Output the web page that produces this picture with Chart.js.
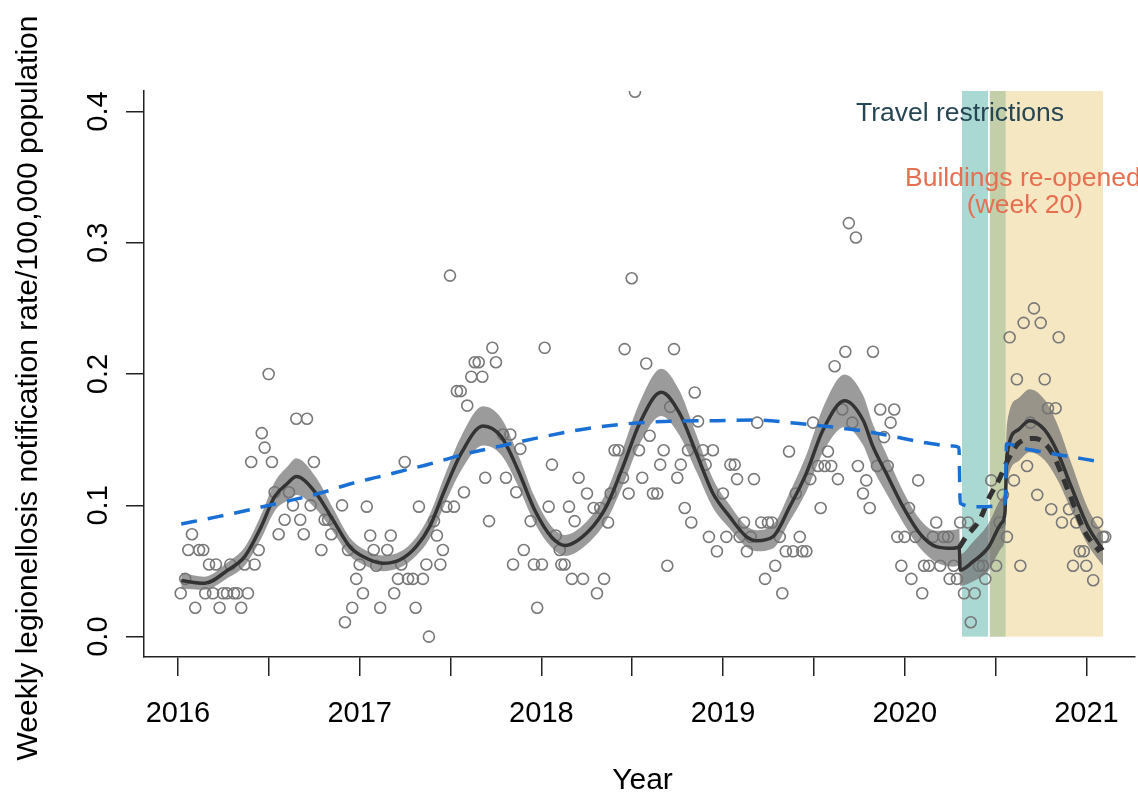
<!DOCTYPE html>
<html><head><meta charset="utf-8">
<script src="https://cdn.jsdelivr.net/npm/chart.js@4.4.0/dist/chart.umd.min.js"></script>
<style>html,body{margin:0;padding:0;background:#fff}canvas{display:block}</style>
</head><body>
<canvas id="c" width="1138" height="792" style="width:1138px;height:792px"></canvas>
<script>
// ---------- data (decimal year, weekly rate /100,000) ----------
const ptX = [2016.015,2016.040,2016.057,2016.077,2016.095,2016.116,2016.139,2016.150,2016.171,2016.193,2016.209,2016.229,2016.248,2016.270,2016.288,2016.308,2016.326,2016.348,2016.367,2016.385,2016.403,2016.422,2016.444,2016.461,2016.477,2016.499,2016.517,2016.532,2016.554,2016.587,2016.611,2016.633,2016.651,2016.673,2016.692,2016.710,2016.730,2016.748,2016.789,2016.807,2016.826,2016.844,2016.903,2016.919,2016.936,2016.959,2016.981,
2017.000,2017.018,2017.039,2017.058,2017.077,2017.091,2017.113,2017.152,2017.171,2017.190,2017.211,2017.229,2017.248,2017.266,2017.293,2017.308,2017.326,2017.348,2017.367,2017.381,2017.409,2017.425,2017.444,2017.458,2017.477,2017.497,2017.519,2017.535,2017.556,2017.574,2017.592,2017.614,2017.633,2017.655,2017.675,2017.691,2017.712,2017.730,2017.750,2017.789,2017.805,2017.829,2017.844,2017.862,2017.884,2017.903,2017.941,2017.959,2017.977,
2018.003,2018.018,2018.040,2018.058,2018.079,2018.101,2018.110,2018.128,2018.152,2018.168,2018.183,2018.205,2018.229,2018.251,2018.288,2018.306,2018.324,2018.345,2018.367,2018.381,2018.403,2018.425,2018.449,2018.458,2018.480,2018.497,2018.515,2018.537,2018.555,2018.577,2018.596,2018.614,2018.638,2018.654,2018.673,2018.693,2018.709,2018.730,2018.748,2018.767,2018.789,2018.807,2018.825,2018.844,2018.862,2018.889,2018.904,2018.922,2018.944,2018.966,2018.999,
2019.018,2019.040,2019.064,2019.077,2019.091,2019.115,2019.131,2019.152,2019.170,2019.188,2019.210,2019.231,2019.247,2019.269,2019.287,2019.312,2019.326,2019.345,2019.363,2019.385,2019.400,2019.422,2019.436,2019.458,2019.480,2019.495,2019.522,2019.537,2019.559,2019.577,2019.595,2019.614,2019.632,2019.656,2019.673,2019.692,2019.711,2019.731,2019.742,2019.770,2019.788,2019.807,2019.825,2019.847,2019.865,2019.886,2019.906,2019.922,2019.942,2019.959,2019.981,2019.999,
2020.023,2020.036,2020.058,2020.074,2020.096,2020.106,2020.133,2020.155,2020.173,2020.195,2020.214,2020.238,2020.247,2020.269,2020.287,2020.305,2020.326,2020.348,2020.363,2020.385,2020.408,2020.430,2020.443,2020.476,2020.503,2020.522,2020.540,2020.562,2020.577,2020.601,2020.617,2020.636,2020.654,2020.673,2020.691,2020.711,2020.729,2020.748,2020.770,2020.788,2020.806,2020.830,2020.847,2020.865,2020.904,2020.926,2020.944,2020.963,2020.985,2020.999,2021.037,2021.059,2021.091,2021.103];
const ptY = [0.033,0.044,0.066,0.078,0.022,0.066,0.066,0.033,0.055,0.033,0.055,0.022,0.033,0.033,0.055,0.033,0.033,0.022,0.055,0.033,0.133,0.055,0.066,0.155,0.144,0.200,0.133,0.110,0.078,0.089,0.110,0.100,0.166,0.089,0.078,0.166,0.100,0.133,0.066,0.089,0.089,0.078,0.100,0.011,0.066,0.022,0.044,
0.055,0.033,0.099,0.077,0.066,0.054,0.022,0.066,0.077,0.033,0.044,0.055,0.133,0.044,0.044,0.022,0.099,0.044,0.055,0.000,0.088,0.077,0.055,0.066,0.099,0.275,0.099,0.187,0.187,0.110,0.176,0.198,0.209,0.209,0.198,0.121,0.088,0.220,0.209,0.154,0.121,0.154,0.055,0.110,0.143,0.066,0.088,0.055,0.022,
0.055,0.220,0.099,0.131,0.077,0.066,0.055,0.055,0.099,0.044,0.088,0.121,0.044,0.109,0.098,0.033,0.098,0.044,0.087,0.109,0.142,0.142,0.121,0.219,0.109,0.273,0.415,0.142,0.121,0.208,0.153,0.109,0.109,0.131,0.142,0.054,0.175,0.219,0.121,0.131,0.098,0.142,0.087,0.186,0.164,0.142,0.131,0.076,0.142,0.065,0.109,
0.076,0.131,0.131,0.120,0.076,0.087,0.065,0.076,0.120,0.163,0.087,0.044,0.087,0.087,0.054,0.076,0.033,0.065,0.141,0.065,0.109,0.076,0.065,0.065,0.120,0.163,0.130,0.098,0.130,0.141,0.130,0.206,0.120,0.173,0.217,0.315,0.163,0.304,0.130,0.109,0.119,0.098,0.217,0.130,0.173,0.152,0.130,0.163,0.173,0.076,0.054,0.076,
0.098,0.044,0.076,0.119,0.033,0.054,0.054,0.076,0.087,0.054,0.076,0.076,0.044,0.054,0.044,0.087,0.033,0.087,0.011,0.033,0.054,0.054,0.044,0.119,0.054,0.087,0.108,0.076,0.228,0.119,0.196,0.054,0.239,0.130,0.163,0.250,0.108,0.239,0.196,0.174,0.097,0.174,0.228,0.087,0.097,0.054,0.087,0.065,0.065,0.054,0.043,0.087,0.076,0.076];

// fitted seasonal model (solid) with confidence band
const fitX  = [2016.018,2016.147,2016.275,2016.367,2016.458,2016.532,2016.605,2016.651,2016.761,2016.853,2016.945,2017.018,2017.128,2017.220,2017.311,2017.385,2017.468,2017.559,2017.679,2017.779,2017.871,2017.963,2018.054,2018.130,2018.266,2018.357,2018.449,2018.541,2018.660,2018.761,2018.853,2018.944,2019.036,2019.128,2019.183,2019.275,2019.367,2019.458,2019.550,2019.669,2019.770,2019.825,2019.898,2019.990,2020.082,2020.173,2020.265,2020.300,2020.305,2020.375,2020.460,2020.531,2020.551,2020.562,2020.623,2020.687,2020.770,2020.843,2020.916,2021.008,2021.091];
const fitY  = [0.0427,0.0407,0.0508,0.0610,0.0838,0.1066,0.1170,0.1219,0.1090,0.0889,0.0686,0.0610,0.0559,0.0584,0.0686,0.0838,0.1117,0.1397,0.1605,0.1523,0.1270,0.0965,0.0762,0.0695,0.0813,0.0990,0.1295,0.1625,0.1861,0.1701,0.1397,0.1092,0.0914,0.0762,0.0731,0.0762,0.0990,0.1244,0.1574,0.1797,0.1650,0.1447,0.1244,0.0990,0.0787,0.0686,0.0673,0.0680,0.0508,0.0571,0.0680,0.0863,0.0940,0.1380,0.1574,0.1645,0.1574,0.1397,0.1142,0.0838,0.0660];
const fitLo = [0.0367,0.0357,0.0448,0.0540,0.0748,0.0956,0.1040,0.1079,0.0970,0.0799,0.0616,0.0550,0.0499,0.0524,0.0616,0.0748,0.1007,0.1267,0.1455,0.1383,0.1150,0.0865,0.0682,0.0615,0.0723,0.0880,0.1155,0.1465,0.1681,0.1531,0.1257,0.0982,0.0824,0.0682,0.0651,0.0672,0.0880,0.1104,0.1404,0.1597,0.1460,0.1277,0.1094,0.0870,0.0677,0.0566,0.0533,0.0540,0.0388,0.0421,0.0500,0.0673,0.0750,0.1150,0.1334,0.1405,0.1344,0.1187,0.0962,0.0698,0.0540];
const fitHi = [0.0487,0.0457,0.0568,0.0680,0.0928,0.1176,0.1300,0.1359,0.1210,0.0979,0.0756,0.0670,0.0619,0.0644,0.0756,0.0928,0.1227,0.1527,0.1755,0.1663,0.1390,0.1065,0.0842,0.0775,0.0903,0.1100,0.1435,0.1785,0.2041,0.1871,0.1537,0.1202,0.1004,0.0842,0.0811,0.0852,0.1100,0.1384,0.1744,0.1997,0.1840,0.1617,0.1394,0.1110,0.0897,0.0806,0.0813,0.0820,0.0628,0.0721,0.0860,0.1053,0.1130,0.1610,0.1814,0.1885,0.1804,0.1607,0.1322,0.0978,0.0780];

// counterfactual (dashed black) after restrictions; starts from the fit point at index cfStart
const cfStart = 47;
const cfX = [2020.338,2020.412,2020.467,2020.513,2020.568,2020.623,2020.715,2020.806,2020.898,2020.990,2021.073];
const cfY = [0.0762,0.0889,0.1066,0.1180,0.1346,0.1470,0.1510,0.1410,0.1117,0.0800,0.0647];

// long-term trend (blue dashed)
const trendX = [2016.018,2016.220,2016.550,2016.800,2016.945,2017.110,2017.256,2017.385,2017.559,2017.743,2017.926,2018.183,2018.357,2018.632,2018.963,2019.183,2019.403,2019.733,2019.898,2020.082,2020.265,2020.298,2020.305,2020.400,2020.553,2020.560,2020.650,2020.800,2021.073];
const trendY = [0.0858,0.0914,0.1016,0.1100,0.1163,0.1219,0.1270,0.1315,0.1384,0.1442,0.1498,0.1569,0.1605,0.1637,0.1645,0.1650,0.1625,0.1574,0.1536,0.1485,0.1452,0.1440,0.1016,0.0990,0.1016,0.1470,0.1435,0.1397,0.1333];

// shaded periods
const shadeStart = [2020.315, 2020.468, 2020.468];
const shadeEnd   = [2020.458, 2020.555, 2021.091];
const shadeColor = ['rgba(42,157,143,0.4)','rgba(42,157,143,0.4)','rgba(233,196,106,0.4)'];

// axes
const xTicks = [2016,2016.5,2017,2017.5,2018,2018.5,2019,2019.5,2020,2020.5,2021];
const xLabels = [2016,2017,2018,2019,2020,2021];
const yTicks = [0,0.1,0.2,0.3,0.4];
const xMin = 2015.813, xMax = 2021.267, yMin = -0.0155, yMax = 0.4156;

const labelTravel = 'Travel restrictions';
const labelBuild1 = 'Buildings re-opened';
const labelBuild2 = '(week 20)';
const yTitle = 'Weekly legionellosis notification rate/100,000 population';
const xTitle = 'Year';

// ---------- build ----------
const zip = (xs, ys) => xs.map((v, i) => ({x: v, y: ys[i]}));
const points = zip(ptX, ptY);
const fitPts = zip(fitX, fitY);
const loPts = zip(fitX, fitLo);
const hiPts = zip(fitX, fitHi);
const cfPts = fitPts.slice(cfStart, cfStart + 1).concat(zip(cfX, cfY));
const trendPts = zip(trendX, trendY);

const FONT = '"Liberation Sans", Arial, Helvetica, sans-serif';

const decor = {
  id: 'decor',
  beforeDatasetsDraw(chart) {
    const {ctx, scales: {x, y}} = chart;
    ctx.save();
    const y0 = y.getPixelForValue(0), y1 = y.getPixelForValue(yMax);
    for (let i = 0; i < shadeStart.length; i++) {
      const x0 = x.getPixelForValue(shadeStart[i]), x1 = x.getPixelForValue(shadeEnd[i]);
      ctx.fillStyle = shadeColor[i];
      ctx.fillRect(x0, y1, x1 - x0, y0 - y1);
    }
    ctx.restore();
  },
  afterDraw(chart) {
    const {ctx, chartArea: ca, scales: {x, y}} = chart;
    ctx.save();
    ctx.fillStyle = '#000';
    ctx.font = '29px ' + FONT;
    ctx.textAlign = 'center';
    ctx.textBaseline = 'alphabetic';
    xLabels.forEach(v => ctx.fillText(String(v), x.getPixelForValue(v), ca.bottom + 65));
    yTicks.forEach(v => {
      ctx.save();
      ctx.translate(ca.left - 37, y.getPixelForValue(v));
      ctx.rotate(-Math.PI / 2);
      ctx.fillText(v.toFixed(1), 0, 0);
      ctx.restore();
    });
    ctx.font = '30px ' + FONT;
    ctx.fillText(xTitle, (ca.left + ca.right) / 2 + 3, ca.bottom + 132);
    ctx.save();
    ctx.translate(ca.left - 107, (ca.top + ca.bottom) / 2 + 14);
    ctx.rotate(-Math.PI / 2);
    ctx.fillText(yTitle, 0, 0);
    ctx.restore();

    ctx.font = '26.5px ' + FONT;
    ctx.fillStyle = '#264653';
    ctx.fillText(labelTravel, x.getPixelForValue(2020.304), y.getPixelForValue(0.3927));
    ctx.fillStyle = '#e76f51';
    ctx.fillText(labelBuild1, x.getPixelForValue(2020.650), y.getPixelForValue(0.3432));
    ctx.fillText(labelBuild2, x.getPixelForValue(2020.661), y.getPixelForValue(0.3226));
    ctx.restore();
  }
};

new Chart(document.getElementById('c'), {
  type: 'line',
  data: {
    datasets: [
      { label: 'trend', data: trendPts, order: 0, borderColor: '#1a6fd4', borderWidth: 3.5,
        borderDash: [16, 11], pointRadius: 0, fill: false, cubicInterpolationMode: 'monotone' },
      { label: 'counterfactual', data: cfPts, order: 1, borderColor: '#333333', borderWidth: 5,
        borderDash: [11, 8], pointRadius: 0, fill: false, cubicInterpolationMode: 'monotone' },
      { label: 'fit', data: fitPts, order: 2, borderColor: '#333333', borderWidth: 3.5,
        pointRadius: 0, fill: false, cubicInterpolationMode: 'monotone' },
      { label: 'upper', data: hiPts, order: 3, borderWidth: 0, borderColor: 'rgba(0,0,0,0)',
        backgroundColor: 'rgba(112,112,112,0.7)', pointRadius: 0, fill: '+1', cubicInterpolationMode: 'monotone' },
      { label: 'lower', data: loPts, order: 4, borderWidth: 0, borderColor: 'rgba(0,0,0,0)',
        pointRadius: 0, fill: false, cubicInterpolationMode: 'monotone' },
      { label: 'weekly', data: points, order: 5, showLine: false, pointRadius: 5.5, pointBorderWidth: 1.6,
        pointBorderColor: '#787878', pointBackgroundColor: 'rgba(0,0,0,0)', pointStyle: 'circle' }
    ]
  },
  options: {
    responsive: false, animation: false, devicePixelRatio: 1,
    layout: { autoPadding: false, padding: { left: 0, top: 91, right: 3, bottom: 0 } },
    plugins: { legend: { display: false }, tooltip: { enabled: false } },
    scales: {
      x: {
        type: 'linear', min: xMin, max: xMax,
        afterBuildTicks: s => { s.ticks = xTicks.map(v => ({ value: v })); },
        afterFit: s => { s.height = 135; },
        grid: { drawOnChartArea: false, drawTicks: true, tickLength: 19, color: '#222', lineWidth: 1.5 },
        border: { display: true, color: '#222', width: 1.5 },
        ticks: { color: 'rgba(0,0,0,0)', font: { size: 10 }, maxRotation: 0, autoSkip: false }
      },
      y: {
        type: 'linear', min: yMin, max: yMax,
        afterBuildTicks: s => { s.ticks = yTicks.map(v => ({ value: v })); },
        afterFit: s => { s.width = 144; },
        grid: { drawOnChartArea: false, drawTicks: true, tickLength: 18, color: '#222', lineWidth: 1.5 },
        border: { display: true, color: '#222', width: 1.5 },
        ticks: { color: 'rgba(0,0,0,0)', font: { size: 10 }, autoSkip: false }
      }
    }
  },
  plugins: [decor]
});
</script>
</body></html>
